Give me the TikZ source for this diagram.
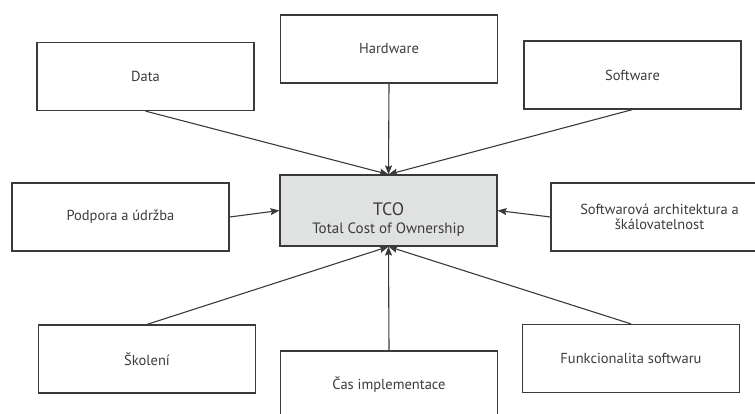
\documentclass[tikz,border=0pt]{standalone}
\usepackage{fontspec}
\setmainfont{PT Sans}
\usetikzlibrary{arrows.meta}
\definecolor{inkgray}{HTML}{3A3A3A}
\definecolor{txtgray}{HTML}{3C3C3C}
\definecolor{tcofill}{HTML}{E0E1E1}
\tikzset{
  factor/.style={draw=inkgray, line width=1.2pt, fill=white, minimum width=217pt,
    minimum height=68pt, inner sep=0pt, text=txtgray, font=\fontsize{14.5}{15.5}\selectfont,
    align=center},
  link/.style={draw=inkgray, line width=1.1pt, -{Stealth[length=9pt,width=7pt,inset=1.5pt]}}
}
\begin{document}
\begin{tikzpicture}[x=1pt,y=-1pt]
\useasboundingbox (0,0) rectangle (755,414);
% central cost box
\node[factor, fill=tcofill, minimum height=71pt] (tco) at (388.5,210.5) {};
\node[text=txtgray, font=\fontsize{18}{20}\selectfont, inner sep=0pt] at (388.5,209) {TCO};
\node[text=txtgray, font=\fontsize{15}{17}\selectfont, inner sep=0pt] at (388.5,230) {Total Cost of Ownership};
% surrounding cost factors
\node[factor] (data) at (145.5,76.5) {Data};
\node[factor] (hw) at (389,49) {Hardware};
\node[factor] (sw) at (632.5,75) {Software};
\node[factor] (pod) at (120.5,217) {Podpora a údržba};
\node[factor] (arch) at (659.5,217) {Softwarová architektura a\\ škálovatelnost};
\node[factor] (skol) at (147,359) {Školení};
\node[factor] (cas) at (389,385) {Čas implementace};
\node[factor] (fun) at (631,358.5) {Funkcionalita softwaru};
% connectors into the central box
\draw[link] (data.south) -- (tco.north);
\draw[link] (hw.south) -- (tco.north);
\draw[link] (sw.south) -- (tco.north);
\draw[link] (pod.east) -- (tco.west);
\draw[link] (arch.west) -- (tco.east);
\draw[link] (skol.north) -- (tco.south);
\draw[link] (cas.north) -- (tco.south);
\draw[link] (fun.north) -- (tco.south);
\end{tikzpicture}
\end{document}
